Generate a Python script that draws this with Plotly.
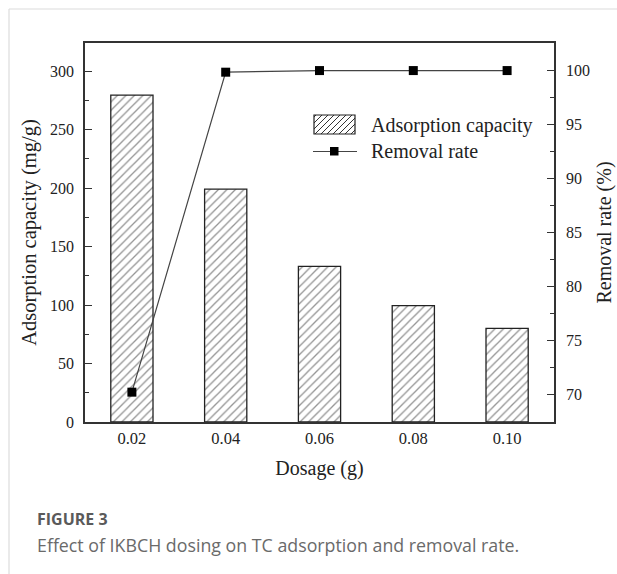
import plotly.graph_objects as go

dosage = [0.02, 0.04, 0.06, 0.08, 0.10]
dosage_labels = ["0.02", "0.04", "0.06", "0.08", "0.10"]
adsorption_capacity = [279.5, 199, 133, 99.5, 80]
removal_rate = [70.2, 99.8, 99.95, 99.95, 99.95]

W, H = 617, 574
ML, MR, MT, MB = 85, 63, 43, 152
pw, ph = W - ML - MR, H - MT - MB

def px(x):
    return (x - ML) / pw

def py(y):
    return (H - MB - y) / ph

serif = "Liberation Serif"
ink = "#222"

fig = go.Figure()
fig.add_trace(go.Bar(
    x=dosage, y=adsorption_capacity, width=0.009,
    name="Adsorption capacity", showlegend=False,
    marker=dict(color="white", line=dict(color="#222", width=1.3),
                pattern=dict(shape="/", fgcolor="#2a2a2a", bgcolor="white", size=6, solidity=0.22)),
    yaxis="y",
))
fig.add_trace(go.Scatter(
    x=dosage, y=removal_rate, name="Removal rate", mode="lines+markers", showlegend=False,
    line=dict(color="#444", width=1.2),
    marker=dict(symbol="square", size=9, color="black"),
    yaxis="y2",
))

# ---- manual legend (pixel geometry) ----
lx0, lx1, ly0, ly1 = 314, 355, 115, 134
segs = []
step = 6
c = lx0 + ly0 + 2
while c < lx1 + ly1:
    pts = []
    for x in (lx0, lx1):
        y = c - x
        if ly0 <= y <= ly1:
            pts.append((x, y))
    for y in (ly0, ly1):
        x = c - y
        if lx0 <= x <= lx1:
            pts.append((x, y))
    pts = sorted(set(pts))
    if len(pts) >= 2:
        (xa, ya), (xb, yb) = pts[0], pts[-1]
        segs.append(f"M{px(xa)},{py(ya)} L{px(xb)},{py(yb)}")
    c += step
hatch_path = " ".join(segs)

shapes = [
    dict(type="line", xref="paper", yref="paper", x0=px(9), x1=px(W), y0=py(9), y1=py(9),
         line=dict(color="#dcdcdc", width=1.2)),
    dict(type="line", xref="paper", yref="paper", x0=px(9), x1=px(9), y0=py(9), y1=py(H),
         line=dict(color="#dcdcdc", width=1.2)),
    dict(type="path", xref="paper", yref="paper", path=hatch_path,
         line=dict(color="#333", width=1)),
    dict(type="rect", xref="paper", yref="paper", x0=px(lx0), x1=px(lx1), y0=py(ly1), y1=py(ly0),
         line=dict(color="#222", width=1.2)),
    dict(type="line", xref="paper", yref="paper", x0=px(313), x1=px(357), y0=py(151.5), y1=py(151.5),
         line=dict(color="#444", width=1.2)),
    dict(type="rect", xref="paper", yref="paper", x0=px(330), x1=px(338.5), y0=py(155.5), y1=py(147),
         line=dict(color="black", width=0), fillcolor="black"),
]

annotations = [
    dict(text="Adsorption capacity", xref="paper", yref="paper", x=px(369), y=py(126),
         xanchor="left", yanchor="middle", showarrow=False,
         font=dict(family=serif, size=20, color=ink)),
    dict(text="Removal rate", xref="paper", yref="paper", x=px(369), y=py(151),
         xanchor="left", yanchor="middle", showarrow=False,
         font=dict(family=serif, size=20, color=ink)),
    dict(text="<b>FIGURE 3</b>", xref="paper", yref="paper", x=px(35), y=py(519),
         xanchor="left", yanchor="middle", showarrow=False,
         font=dict(family="Open Sans", size=16, color="#5a5a5a")),
    dict(text="Effect of IKBCH dosing on TC adsorption and removal rate.", xref="paper", yref="paper",
         x=px(35), y=py(545), xanchor="left", yanchor="middle", showarrow=False,
         font=dict(family="Open Sans", size=17.8, color="#6a6a6a")),
]

fig.update_layout(
    width=W, height=H,
    margin=dict(l=ML, r=MR, t=MT, b=MB, autoexpand=False),
    paper_bgcolor="white", plot_bgcolor="white",
    font=dict(family=serif, size=16, color=ink),
    showlegend=False,
    xaxis=dict(range=[0.01, 0.11], tickvals=dosage, ticktext=dosage_labels,
               showline=True, linecolor="#333", linewidth=1.5, mirror=True,
               ticks="", showgrid=False, zeroline=False,
               tickfont=dict(family=serif, size=16.5, color=ink),
               title=dict(text="Dosage (g)", font=dict(family=serif, size=20, color=ink), standoff=14)),
    yaxis=dict(range=[0, 324], tickvals=[0, 50, 100, 150, 200, 250, 300],
               showline=True, linecolor="#333", linewidth=1.5,
               ticks="inside", ticklen=7, tickcolor="#333", ticklabelstandoff=6,
               minor=dict(dtick=25, ticks="inside", ticklen=4, tickcolor="#333"),
               showgrid=False, zeroline=False,
               tickfont=dict(family=serif, size=16, color=ink),
               title=dict(text="Adsorption capacity (mg/g)", font=dict(family=serif, size=20.5, color=ink), standoff=8)),
    yaxis2=dict(range=[67.44, 102.5], overlaying="y", side="right",
                tickvals=[70, 75, 80, 85, 90, 95, 100],
                showline=True, linecolor="#333", linewidth=1.5,
                ticks="inside", ticklen=7, tickcolor="#333", ticklabelstandoff=7,
                minor=dict(dtick=2.5, ticks="inside", ticklen=4, tickcolor="#333"),
                showgrid=False, zeroline=False,
                tickfont=dict(family=serif, size=16, color=ink),
                title=dict(text="Removal rate (%)", font=dict(family=serif, size=20, color=ink), standoff=8)),
    shapes=shapes,
    annotations=annotations,
)

fig.write_html("out.html")
